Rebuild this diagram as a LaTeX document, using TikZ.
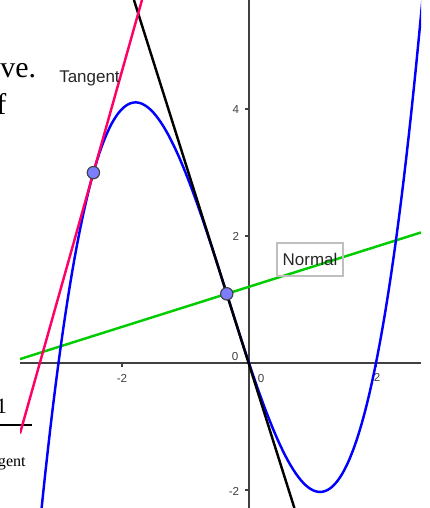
\documentclass[tikz,border=0pt]{standalone}
\usepackage{fontspec}
\setmainfont{Liberation Serif}
\newfontfamily\ggfont{Liberation Sans}
\usepackage{tikz}

\definecolor{ggblue}{RGB}{0,0,255}
\definecolor{ggred}{RGB}{255,0,102}
\definecolor{gggreen}{RGB}{0,204,0}
\definecolor{ggaxis}{RGB}{64,64,64}
\definecolor{ggpoint}{RGB}{125,125,255}

\begin{document}
\begin{tikzpicture}[
  axis/.style={ggaxis,line width=0.7pt},
  curve/.style={line width=1.1pt},
  ticklabel/.style={font=\ggfont\fontsize{5.2}{6}\selectfont,text=ggaxis,inner sep=0pt},
  gglabel/.style={font=\ggfont\fontsize{7.6}{9}\selectfont,text=black!85,inner sep=0pt},
  ggpt/.style={circle,fill=ggpoint,draw=ggaxis,line width=0.5pt,minimum size=1.95mm,inner sep=0pt},
  pagetext/.style={inner sep=0pt,font=\fontsize{13.4}{16}\selectfont}
]
\useasboundingbox (-3.921,-2.283) rectangle (2.835,5.717);
\clip (-3.921,-2.283) rectangle (2.835,5.717);

% text of the page behind the screenshot
\node (ve) [pagetext,anchor=base west] at (-3.921,4.504) {ve.};
\node (f) [pagetext,anchor=base west] at (-3.984,3.906) {f};
\node (one) [inner sep=0pt,font=\fontsize{9.8}{12}\selectfont,anchor=base east] at (-3.803,-0.787) {1};
\draw [line width=0.6pt] (-3.921,-0.976) -- (-3.417,-0.976);
\node (gent) [inner sep=0pt,font=\fontsize{7.2}{9}\selectfont,anchor=base east] at (-3.51,-1.622) {gent};

\begin{scope}
\clip (-3.606,-2.283) rectangle (2.709,5.717);
% axes
\draw [axis] (-3.606,0) -- (2.709,0);
\draw [axis] (0,-2.283) -- (0,5.717);
\foreach \y in {4,2,-2} \draw [axis] (-0.065,\y) -- (0,\y);
\foreach \x in {-2,2} \draw [axis] (\x,0) -- (\x,-0.065);
\node (y4) [ticklabel] at (-0.205,4.0) {4};
\node (y2) [ticklabel] at (-0.205,2.0) {2};
\node (ym2) [ticklabel] at (-0.236,-2.03) {-2};
\node (y0) [ticklabel] at (-0.22,0.11) {0};
\node (x0) [ticklabel] at (0.19,-0.236) {0};
\node (xm2) [ticklabel] at (-2.0,-0.236) {-2};
\node (x2) [ticklabel] at (2.016,-0.22) {2};

\coordinate (P) at (-2.45,2.998);
\coordinate (Q) at (-0.35,1.090);
\coordinate (nA) at (-3.606,0.062);
\coordinate (nB) at (2.709,2.056);
\coordinate (tA) at (-3.606,-1.110);
\coordinate (tB) at (-1.685,5.717);
\coordinate (bA) at (-1.8115,5.717);
\coordinate (bB) at (0.715,-2.283);

\draw [curve,gggreen] (nA) -- (nB);
\draw [curve,ggblue,domain=-3.4:2.75,samples=160] plot (\x,{0.5*\x*\x*\x+0.5*\x*\x-3*\x});
\draw [curve,black] (bA) -- (bB);
\draw [curve,ggred] (tA) -- (tB);

\node (tan) [gglabel] at (-2.512,4.488) {Tangent};
\node (nor) [gglabel,draw=black!25,line width=0.5pt,minimum width=10.4mm,minimum height=5.2mm] at (0.961,1.630) {Normal};

\node (p1) [ggpt] at (P) {};
\node (p2) [ggpt] at (Q) {};
\end{scope}
\end{tikzpicture}
\end{document}
